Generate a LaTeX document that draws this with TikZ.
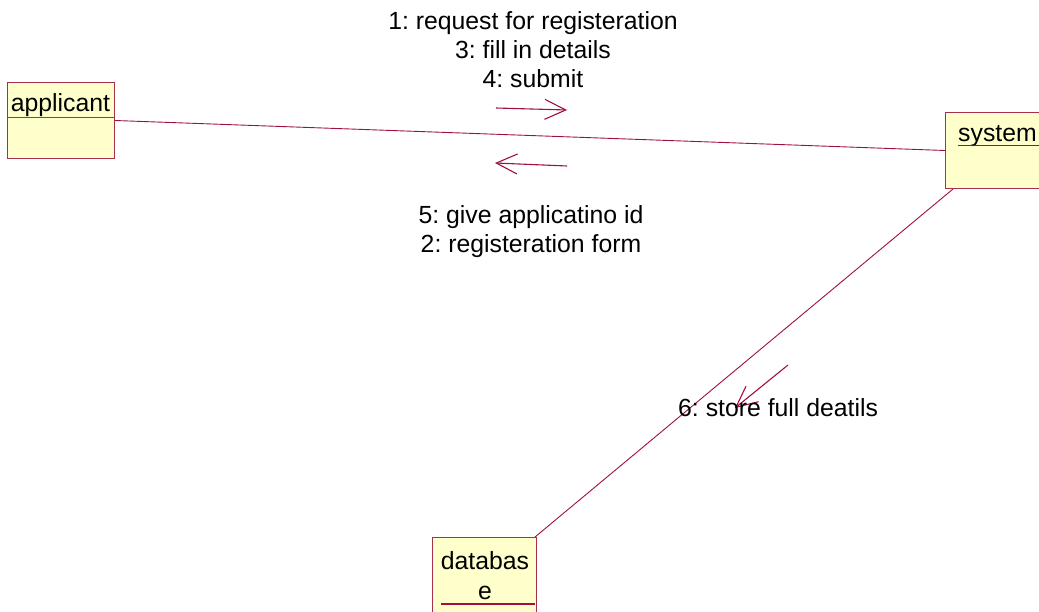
\documentclass[tikz,border=0pt]{standalone}
\usepackage{fontspec}
\setmainfont{Liberation Sans}
\usetikzlibrary{arrows.meta,calc}
\frenchspacing
\definecolor{rline}{HTML}{A0103F}
\definecolor{rbox}{HTML}{A8304E}
\definecolor{rfill}{HTML}{FFFFCC}
\tikzset{
  objbox/.style={draw=rbox, fill=rfill, line width=1pt, inner sep=0pt, anchor=north west},
  lbl/.style={font=\fontsize{24.8}{29}\selectfont, inner sep=0pt, align=center, text=black},
  link/.style={draw=rline, line width=0.9pt},
  msg/.style={draw=rline, line width=1.1pt, -{Straight Barb[length=21pt,width=20pt,line width=1.1pt]}},
  uline/.style={draw=rline, line width=1.8pt}
}
\begin{document}
\begin{tikzpicture}[x=1pt,y=-1pt]
\useasboundingbox (0,0) rectangle (1039,612);
\clip (0,0) rectangle (1039,612);
% boxes
\node[objbox, minimum width=107pt, minimum height=76pt] (applicant) at (7,82) {};
\node[objbox, minimum width=104pt, minimum height=76pt] (system) at (945,112) {};
\node[objbox, minimum width=104pt, minimum height=90pt] (database) at (432,537) {};
% box texts
\node[lbl, anchor=base] (tapp) at (60.5,112) {applicant};
\draw[draw=rbox, line width=1pt] (applicant.west |- 0,118) coordinate (asl) -- (applicant.east |- 0,118) coordinate (asr);
\node[lbl, anchor=base west] (tsys) at (958,142) {system};
\draw[uline] ($(tsys.base west)+(0,3.5)$) coordinate (su1) -- ($(tsys.base east)+(10,3.5)$) coordinate (su2);
\node[lbl, anchor=base] (tdb1) at (485,569) {databas};
\node[lbl, anchor=base] (tdb2) at (485,599) {e};
\draw[uline] (441,604) coordinate (du1) -- (535,604) coordinate (du2);
% links
\draw[link] (applicant.east) -- (system.west);
\draw[link] ([xshift=8pt]system.south west) -- ([xshift=-2pt]database.north east);
% message arrows
\coordinate (m1s) at (496,108); \coordinate (m1e) at (567,110);
\coordinate (m2s) at (567,166); \coordinate (m2e) at (495,163);
\coordinate (m3s) at (788,365); \coordinate (m3e) at (735,408);
\draw[msg] (m1s) -- (m1e);
\draw[msg] (m2s) -- (m2e);
\draw[msg] (m3s) -- (m3e);
% message labels
\node[lbl, anchor=center] (l1) at (533,49.5) {1: request for registeration\\3: fill in details\\4: submit};
\node[lbl, anchor=center] (l2) at (531,232) {5: give applicatino id\\2: registeration form};
\node[lbl, anchor=west] (l3) at (678,408) {6: store full deatils};
\end{tikzpicture}
\end{document}
